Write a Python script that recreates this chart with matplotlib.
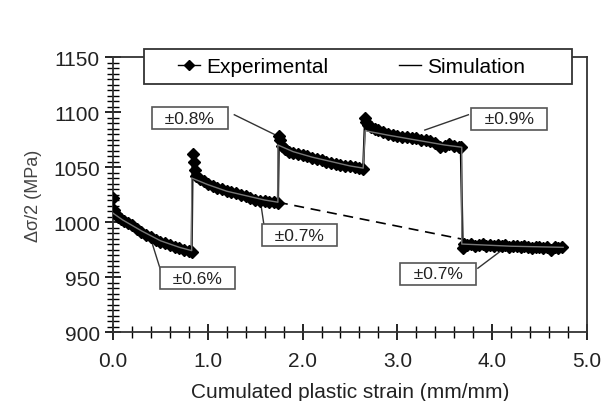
import numpy as np
import matplotlib
matplotlib.use('Agg')
import matplotlib.pyplot as plt
from matplotlib.patches import Rectangle
from matplotlib.ticker import MultipleLocator, FormatStrFormatter

plt.rcParams['font.family'] = ['Liberation Sans', 'DejaVu Sans']

# experimental points (strain, stress amplitude)
exp_x = [0.00, 0.01, 0.03, 0.05, 0.08, 0.12, 0.16, 0.20, 0.25, 0.30, 0.35, 0.40, 0.45, 0.50,
         0.55, 0.60, 0.65, 0.70, 0.75, 0.80, 0.83,
         0.84, 0.85, 0.86, 0.88, 0.92, 0.96, 1.00, 1.05, 1.10, 1.15, 1.20, 1.25, 1.30, 1.35,
         1.40, 1.45, 1.50, 1.55, 1.60, 1.65, 1.70, 1.74,
         1.75, 1.76, 1.78, 1.82, 1.86, 1.90, 1.95, 2.00, 2.05, 2.10, 2.15, 2.20, 2.25, 2.30,
         2.35, 2.40, 2.45, 2.50, 2.55, 2.60, 2.64,
         2.66, 2.67, 2.69, 2.72, 2.76, 2.80, 2.85, 2.90, 2.95, 3.00, 3.05, 3.10, 3.15, 3.20,
         3.25, 3.30, 3.35, 3.40, 3.45, 3.50, 3.55, 3.60, 3.65, 3.67,
         3.69, 3.70, 3.74, 3.78, 3.82, 3.86, 3.90, 3.94, 3.98, 4.02, 4.06, 4.10, 4.14, 4.18,
         4.22, 4.26, 4.30, 4.34, 4.38, 4.42, 4.46, 4.50, 4.54, 4.58, 4.62, 4.66, 4.70, 4.74]
exp_y = [1022, 1011, 1007, 1005, 1003, 1001, 999, 997, 994, 991, 988, 986, 984, 982,
         981, 979, 977, 976, 975, 974, 973,
         1062, 1055, 1047, 1042, 1039, 1037, 1035, 1033, 1031, 1030, 1028, 1027, 1026, 1025,
         1024, 1022, 1020, 1019.5, 1019, 1018.5, 1018, 1017,
         1078, 1075, 1069, 1066, 1064, 1063, 1062, 1061, 1060, 1058, 1057, 1056, 1055, 1054,
         1053, 1052, 1051, 1051, 1050, 1049, 1048,
         1095, 1091, 1088, 1086, 1085, 1084, 1082, 1080, 1079, 1078, 1077, 1077, 1076, 1076,
         1075, 1075, 1074, 1072, 1068, 1069, 1071, 1069, 1068, 1068,
         976, 980, 979, 980, 978, 979, 980, 978, 979, 978, 979, 978, 979, 977,
         978, 978, 977, 978, 977, 976, 977, 977, 976, 977, 975, 977, 976, 977]

# simulation curve
sim_x = [0.00, 0.10, 0.30, 0.50, 0.70, 0.83,
         0.83, 1.00, 1.20, 1.40, 1.60, 1.74,
         1.74, 1.90, 2.10, 2.30, 2.50, 2.64,
         2.66, 2.90, 3.10, 3.30, 3.50, 3.68,
         3.68, 4.20, 4.75]
sim_y = [1008, 1002, 992, 983, 977, 974,
         1040, 1034, 1028, 1024, 1020, 1018,
         1070, 1064, 1059, 1055, 1051, 1049,
         1083, 1079, 1076, 1073, 1070, 1068,
         980, 978, 977]

# dashed link between the two +-0.7% blocks
dash_x = [1.74, 3.68]
dash_y = [1018, 984.5]

# labels: text, box centre, leader start, leader end
labels = ['±0.6%', '±0.7%', '±0.8%', '±0.9%', '±0.7%']
label_pos = [(0.89, 949), (1.97, 988), (0.81, 1094.4), (4.18, 1094), (3.43, 953)]
leader_from = [(0.51, 954), (1.60, 993), (1.28, 1097.5), (3.75, 1097.5), (3.85, 958)]
leader_to = [(0.41, 981.5), (1.56, 1016.4), (1.73, 1078.5), (3.29, 1083.6), (4.12, 975.5)]

fig = plt.figure(figsize=(6.05, 4.02), dpi=100)
ax = fig.add_axes([0.1868, 0.1716, 0.7832, 0.6841])

ax.plot(exp_x, exp_y, color='black', lw=1.6, marker='D', ms=6, mec='black',
        mfc='black', label='Experimental', zorder=3)
ax.plot(sim_x, sim_y, color='#777777', lw=1.0, label='Simulation', zorder=4)
ax.plot(dash_x, dash_y, color='black', lw=1.2, dashes=(6, 4), zorder=2)

for txt, pos, p0, p1 in zip(labels, label_pos, leader_from, leader_to):
    ax.plot([p0[0], p1[0]], [p0[1], p1[1]], color='#333333', lw=1.0, zorder=2)
    ax.text(pos[0], pos[1], '  ' + txt + '  ', fontsize=12.5, ha='center', va='center',
            color='#222222',
            bbox=dict(boxstyle='square,pad=0.2', fc='white', ec='#555555', lw=1.2), zorder=5)

ax.set_xlim(0, 5)
ax.set_ylim(900, 1150)
ax.xaxis.set_major_locator(MultipleLocator(1.0))
ax.xaxis.set_minor_locator(MultipleLocator(0.2))
ax.yaxis.set_major_locator(MultipleLocator(50))
ax.yaxis.set_minor_locator(MultipleLocator(5))
ax.xaxis.set_major_formatter(FormatStrFormatter('%.1f'))
ax.tick_params(which='major', direction='inout', length=12, width=1.2, labelsize=15,
               labelcolor='#222222', right=False, top=False)
ax.tick_params(which='minor', direction='inout', length=8, width=1.0, right=False, top=False)
ax.tick_params(axis='x', pad=8)
for s in ax.spines.values():
    s.set_linewidth(1.3)
    s.set_color('#333333')

ax.set_xlabel('Cumulated plastic strain (mm/mm)', fontsize=15, color='#222222', labelpad=8)
ax.set_ylabel('Δσ/2 (MPa)', fontsize=13, color='#444444', labelpad=8)

# legend frame drawn over the top spine
ax.add_patch(Rectangle((0.065, 0.902), 0.903, 0.127, transform=ax.transAxes, fc='white',
                       ec='#333333', lw=1.3, clip_on=False, zorder=6))
leg = ax.legend(loc='center left', bbox_to_anchor=(0.137, 0.965), ncol=2, frameon=False,
                fontsize=15, handlelength=1.05, handletextpad=0.3, columnspacing=3.4,
                borderaxespad=0, borderpad=0)
leg.set_zorder(7)
for h in leg.legend_handles:
    h.set_color('black')
    h.set_linewidth(1.0)
    h.set_markersize(5)

fig.savefig('out.png', dpi=100)
